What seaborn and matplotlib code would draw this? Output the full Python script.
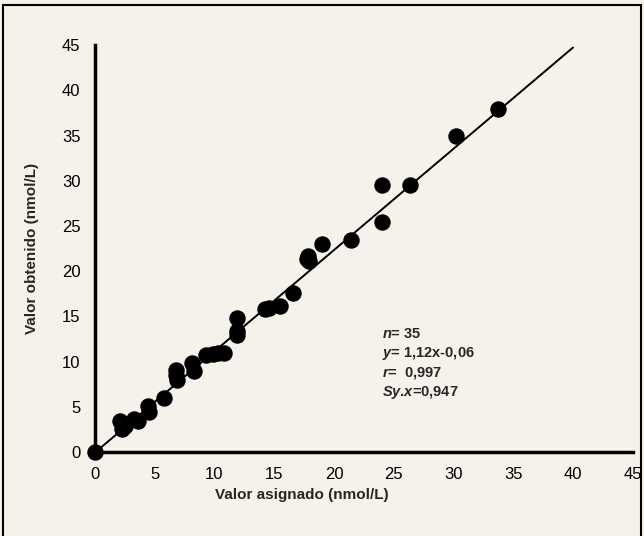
import numpy as np
import pandas as pd
import seaborn as sns
import matplotlib.pyplot as plt
from matplotlib.patches import Rectangle

# values
asignado = [0.0, 2.1, 2.3, 2.5, 3.3, 3.6, 4.4, 4.5, 5.8, 6.8, 6.8, 6.9,
            8.1, 8.3, 9.3, 9.9, 10.8, 11.9, 11.9, 11.9, 14.2, 14.6, 15.5,
            16.6, 17.8, 17.9, 19.0, 21.4, 24.0, 24.0, 26.4, 30.2, 33.7,
            17.7, 10.3]
obtenido = [0.0, 3.4, 2.5, 2.9, 3.6, 3.4, 5.1, 4.4, 6.0, 9.1, 8.5, 8.0,
            9.9, 9.0, 10.7, 10.8, 11.0, 14.8, 13.4, 12.9, 15.8, 15.9, 16.1,
            17.6, 21.7, 21.1, 23.0, 23.5, 29.5, 25.4, 29.5, 35.0, 37.9,
            21.4, 10.9]
slope = 1.12
intercept = -0.06
line_x = [0, 40]
ticks = [0, 5, 10, 15, 20, 25, 30, 35, 40, 45]
stats_lines = [r'$n$= 35', r'$y$= 1,12x-0,06', r'$r$=  0,997', r'$Sy$.$x$=0,947']

sns.set_style('white')
plt.rcParams['font.family'] = ['Liberation Sans', 'DejaVu Sans']
plt.rcParams['mathtext.fontset'] = 'custom'
plt.rcParams['mathtext.it'] = 'Liberation Sans:italic:bold'
plt.rcParams['mathtext.rm'] = 'Liberation Sans:bold'

bg = '#f4f2ea'
fig = plt.figure(figsize=(6.44, 5.36), dpi=100, facecolor=bg)
ax = fig.add_axes([0.1475, 0.1567, 0.835, 0.759])
ax.set_facecolor(bg)

df = pd.DataFrame({'x': asignado, 'y': obtenido})
line_df = pd.DataFrame({'x': line_x, 'y': [slope * v + intercept for v in line_x]})

sns.lineplot(data=line_df, x='x', y='y', ax=ax, color='black', lw=1.4)
sns.scatterplot(data=df, x='x', y='y', ax=ax, color='black', s=140,
                edgecolor='black', linewidth=0, clip_on=False, zorder=3)

ax.set_xlim(0, 45)
ax.set_ylim(0, 45)
ax.set_xticks(ticks)
ax.set_yticks(ticks)
ax.tick_params(direction='inout', length=5, width=1.5, labelsize=12,
               colors='black', pad=8)
for side in ['top', 'right']:
    ax.spines[side].set_visible(False)
for side in ['left', 'bottom']:
    ax.spines[side].set_linewidth(2.5)
    ax.spines[side].set_color('black')

ax.set_xlabel('Valor asignado (nmol/L)', fontsize=11, fontweight='bold')
ax.set_ylabel('Valor obtenido (nmol/L)', fontsize=11, fontweight='bold')
ax.xaxis.set_label_coords(0.385, -0.088)
ax.yaxis.set_label_coords(-0.105, 0.5)

for i, s in enumerate(stats_lines):
    ax.text(24.0, 13.0 - i * 2.15, s, fontsize=10.5, fontweight='bold',
            va='center', ha='left')

fig.patches.append(Rectangle((0.005, -0.02), 0.99, 1.01, transform=fig.transFigure,
                             fill=False, edgecolor='black', lw=1.5))

fig.savefig('out.png', dpi=100, facecolor=bg)
